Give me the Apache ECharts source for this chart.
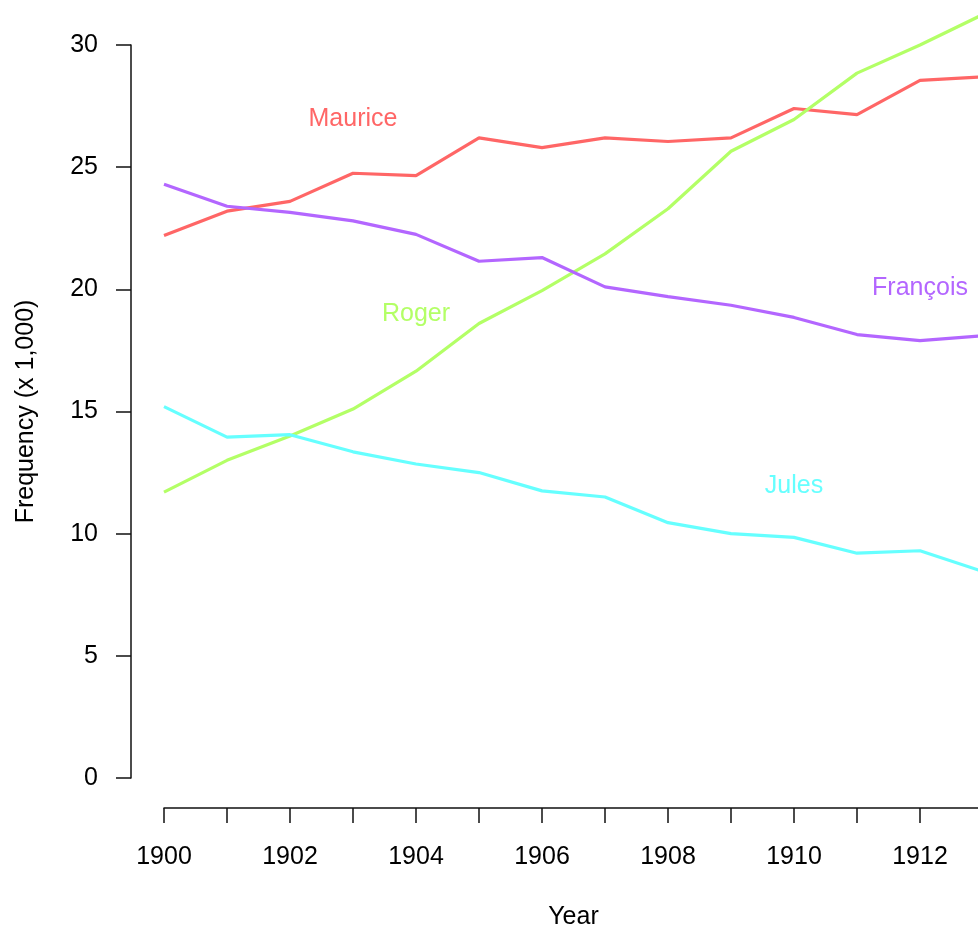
<!DOCTYPE html>
<html>
<head>
<meta charset="utf-8">
<script src="https://cdn.jsdelivr.net/npm/echarts@6/dist/echarts.min.js"></script>
<style>
  html, body { margin: 0; padding: 0; background: #fff; }
  #chart { width: 978px; height: 929px; }
</style>
</head>
<body>
<div id="chart"></div>
<script>
// years on the x axis (the last one runs off the right edge)
const years = [1900, 1901, 1902, 1903, 1904, 1905, 1906, 1907, 1908, 1909, 1910, 1911, 1912, 1913];

const names = ['Maurice', 'Roger', 'François', 'Jules'];

// frequency, in thousands
const maurice = [22.2, 23.2, 23.6, 24.75, 24.65, 26.2, 25.8, 26.2, 26.05, 26.2, 27.4, 27.15, 28.55, 28.7];
const roger = [11.7, 13.0, 14.0, 15.1, 16.65, 18.6, 19.95, 21.45, 23.3, 25.65, 26.95, 28.85, 30.0, 31.25];
const francois = [24.3, 23.4, 23.15, 22.8, 22.25, 21.15, 21.3, 20.1, 19.7, 19.35, 18.85, 18.15, 17.9, 18.1];
const jules = [15.2, 13.95, 14.05, 13.35, 12.85, 12.5, 11.75, 11.5, 10.45, 10.0, 9.85, 9.2, 9.3, 8.45];

// where each name is written on the plot [year, value]
const labelPos = [[1903, 26.98], [1904, 18.98], [1912, 20.03], [1910, 11.93]];

const yTicks = [0, 5, 10, 15, 20, 25, 30];

const colors = ['#FF6666', '#B3FF66', '#B366FF', '#66FFFF'];
const font = 'Liberation Sans, Arial, Helvetica, sans-serif';
const fs = 25;

const chart = echarts.init(document.getElementById('chart'));

const allData = [maurice, roger, francois, jules];

const series = allData.map(function (vals, i) {
    return {
        name: names[i],
        type: 'line',
        data: years.map(function (y, k) { return [y, vals[k]]; }),
        symbol: 'none',
        lineStyle: { color: colors[i], width: 3.2 },
        itemStyle: { color: colors[i] },
        clip: false,
        animation: false,
        markPoint: {
            symbol: 'circle',
            symbolSize: 1,
            itemStyle: { color: 'rgba(0,0,0,0)' },
            label: {
                show: true,
                position: 'inside',
                formatter: names[i],
                color: colors[i],
                fontSize: fs,
                fontFamily: font
            },
            data: [{ coord: labelPos[i] }]
        }
    };
});

const tick = { show: true, length: 15, lineStyle: { color: '#111', width: 1.5 } };

const option = {
    backgroundColor: '#fff',
    animation: false,
    grid: {
        left: 164,
        top: 45,
        width: 819, // 1900..1913, the end is cut off by the window
        height: 733,
        outerBoundsMode: 'none'
    },
    xAxis: {
        type: 'value',
        min: 1900,
        max: 1913,
        interval: 1,
        offset: 30,
        name: 'Year',
        nameLocation: 'middle',
        nameGap: 97,
        nameTextStyle: { color: '#000', fontSize: fs, fontFamily: font },
        axisLine: { show: true, onZero: false, lineStyle: { color: '#111', width: 1.5 } },
        axisTick: tick,
        axisLabel: {
            color: '#000',
            fontSize: fs,
            fontFamily: font,
            margin: 37,
            formatter: function (v) { return v % 2 === 0 ? String(v) : ''; }
        },
        splitLine: { show: false }
    },
    yAxis: {
        type: 'value',
        min: yTicks[0],
        max: yTicks[yTicks.length - 1],
        interval: 5,
        offset: 33,
        name: 'Frequency (x 1,000)',
        nameLocation: 'middle',
        nameGap: 92,
        nameTextStyle: { color: '#000', fontSize: fs, fontFamily: font },
        axisLine: { show: true, onZero: false, lineStyle: { color: '#111', width: 1.5 } },
        axisTick: tick,
        axisLabel: { color: '#000', fontSize: fs, fontFamily: font, margin: 33 },
        splitLine: { show: false }
    },
    series: series
};

chart.setOption(option);
</script>
</body>
</html>
